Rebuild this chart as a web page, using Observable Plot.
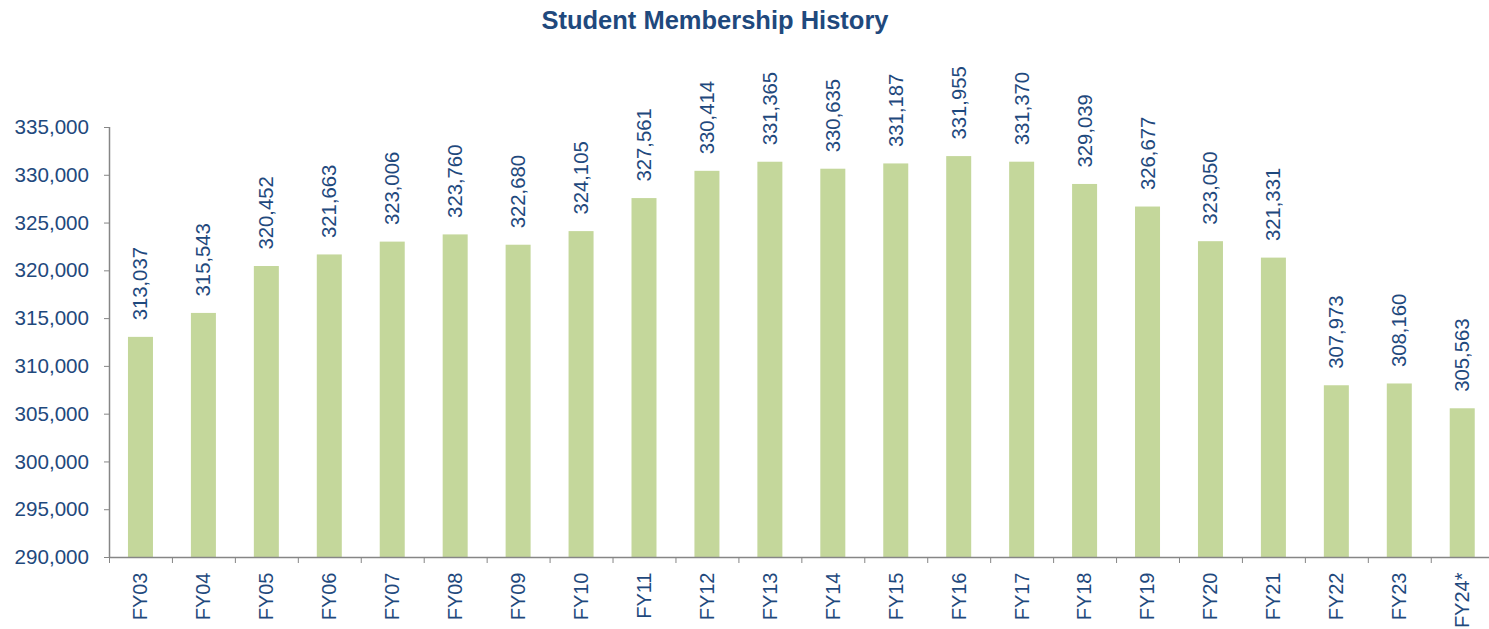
<!DOCTYPE html>
<html>
<head>
<meta charset="utf-8">
<script src="https://cdn.jsdelivr.net/npm/d3@7"></script>
<script src="https://cdn.jsdelivr.net/npm/@observablehq/plot@0.6"></script>
<style>
  html, body { margin: 0; padding: 0; background: #fff; overflow: hidden; }
  #title { width: 1430px; height: 40px; line-height: 40px; text-align: center;
    font-family: "Liberation Sans", Arial, sans-serif; font-weight: bold; font-size: 25.5px; color: #1f497d; }
</style>
</head>
<body>
<div id="title">Student Membership History</div>
<div id="chart"></div>
<script>
const years = ["FY03","FY04","FY05","FY06","FY07","FY08","FY09","FY10","FY11","FY12","FY13","FY14","FY15","FY16","FY17","FY18","FY19","FY20","FY21","FY22","FY23","FY24*"];
const members = [313037,315543,320452,321663,323006,323760,322680,324105,327561,330414,331365,330635,331187,331955,331370,329039,326677,323050,321331,307973,308160,305563];
const yTicks = [290000,295000,300000,305000,310000,315000,320000,325000,330000,335000];

const data = years.map((y, i) => ({year: y, value: members[i]}));
const textColor = "#1f497d";
const axisColor = "#868686";
const fmt = d3.format(",");
const x0 = 109, x1 = 1493.7;
const step = (x1 - x0) / years.length;

const chart = Plot.plot({
  width: 1489,
  height: 589,
  marginTop: 87,
  marginBottom: 72,
  marginLeft: x0,
  marginRight: 0,
  style: {fontFamily: "'Liberation Sans', Arial, sans-serif", fontSize: "20px", color: textColor, background: "#fff"},
  x: {domain: years, range: [x0, x1], padding: 0, round: false},
  y: {domain: [290000, 335000]},
  marks: [
    Plot.barY(data, {x: "year", y1: 290000, y2: "value", fill: "#c4d79b", insetLeft: (step - 25) / 2, insetRight: (step - 25) / 2}),
    Plot.text(data, {x: "year", y: "value", text: d => fmt(d.value), rotate: -90, textAnchor: "start", dy: -17, fill: textColor, fontSize: 20.3}),
    Plot.axisY({ticks: yTicks, tickFormat: fmt, tickSize: 5, tickPadding: 15.5, stroke: axisColor, fill: textColor, fontSize: 20.6, label: null}),
    Plot.axisX({tickSize: 0, tickPadding: 15, tickRotate: -90, fill: textColor, fontSize: 20, label: null}),
    Plot.axisX({tickSize: 6, tickFormat: () => "", dx: -step / 2, stroke: axisColor, label: null}),
    Plot.ruleX([years[0]], {dx: -step / 2, stroke: axisColor, strokeWidth: 1.5}),
    Plot.ruleY([290000], {stroke: axisColor, strokeWidth: 1.5})
  ]
});
document.getElementById("chart").appendChild(chart);
</script>
</body>
</html>
